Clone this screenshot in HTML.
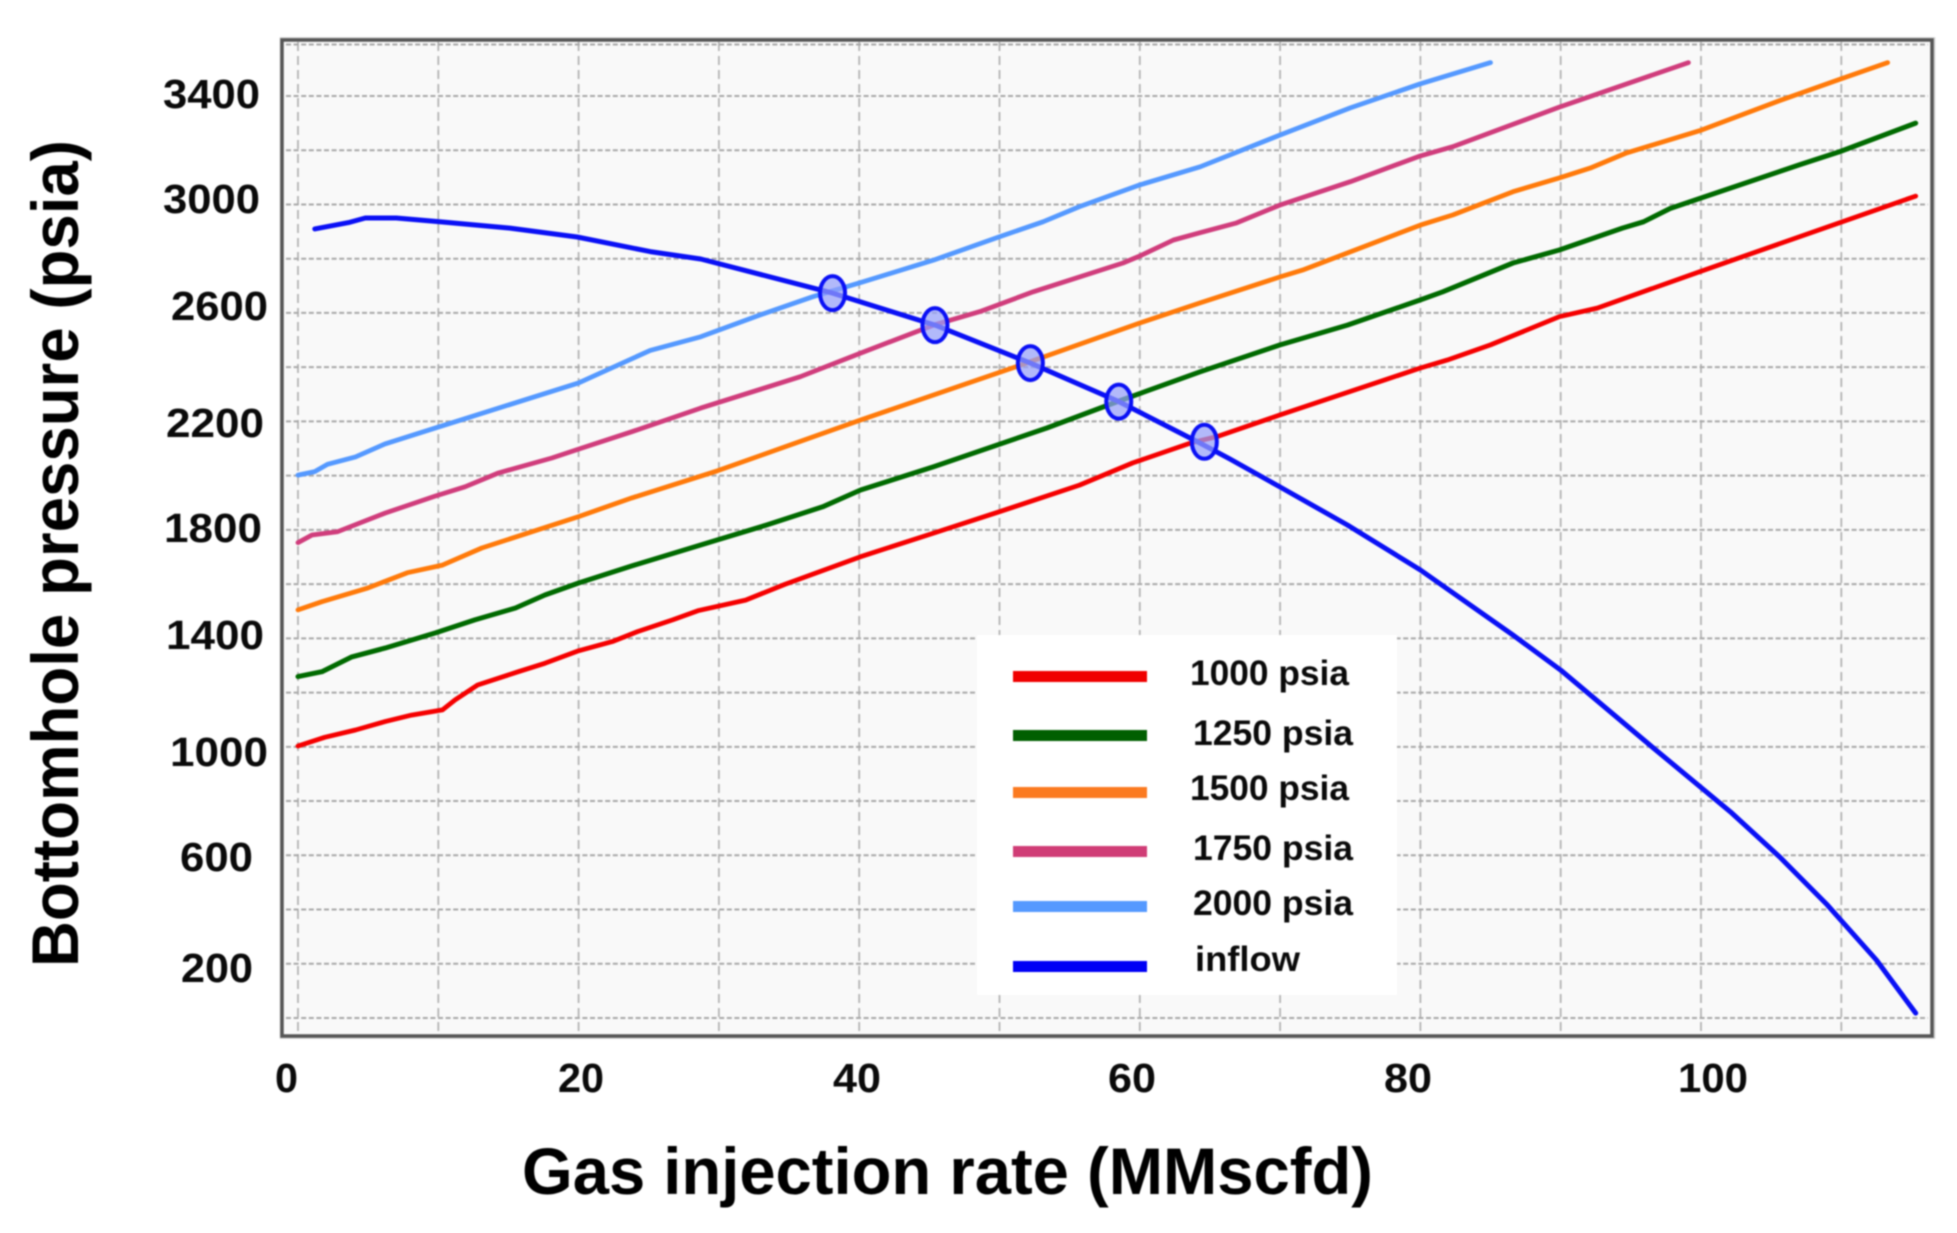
<!DOCTYPE html>
<html lang="en">
<head>
<meta charset="utf-8">
<title>Gas injection rate vs bottomhole pressure</title>
<style>
  html,body{margin:0;padding:0;background:#fff;width:1957px;height:1233px;overflow:hidden}
  svg{display:block;filter:blur(0.8px)}
  text{font-family:"Liberation Sans","DejaVu Sans",sans-serif;font-weight:700;fill:#0a0a0a}
  .tick{font-size:41px}
  .leg{font-size:35px}
  .title{font-size:66px;fill:#000}
</style>
</head>
<body>
<svg id="chart" xmlns="http://www.w3.org/2000/svg" width="1957" height="1233" viewBox="0 0 1957 1233">
  <rect x="282" y="40" width="1650" height="996" fill="#f9f9f9"/>
  <g id="grid"></g>
  <g id="series"></g>
  <g id="markers"></g>
  <rect x="280.5" y="38" width="1654" height="1000" fill="none" stroke="#ccc" stroke-width="1.5"/>
  <rect x="282" y="40" width="1650" height="996" fill="none" stroke="#555" stroke-width="3.5"/>

  <g class="tick">
    <text class="tick" x="163" y="108" textLength="97" lengthAdjust="spacingAndGlyphs">3400</text>
    <text class="tick" x="163" y="213" textLength="97" lengthAdjust="spacingAndGlyphs">3000</text>
    <text class="tick" x="171" y="320" textLength="97" lengthAdjust="spacingAndGlyphs">2600</text>
    <text class="tick" x="166" y="437" textLength="98" lengthAdjust="spacingAndGlyphs">2200</text>
    <text class="tick" x="164" y="542" textLength="98" lengthAdjust="spacingAndGlyphs">1800</text>
    <text class="tick" x="166" y="649" textLength="98" lengthAdjust="spacingAndGlyphs">1400</text>
    <text class="tick" x="170" y="766" textLength="98" lengthAdjust="spacingAndGlyphs">1000</text>
    <text class="tick" x="180" y="871" textLength="73" lengthAdjust="spacingAndGlyphs">600</text>
    <text class="tick" x="181" y="982" textLength="72" lengthAdjust="spacingAndGlyphs">200</text>
  </g>
  <g>
    <text class="tick" x="275" y="1092" textLength="23" lengthAdjust="spacingAndGlyphs">0</text>
    <text class="tick" x="558" y="1092" textLength="46" lengthAdjust="spacingAndGlyphs">20</text>
    <text class="tick" x="833" y="1092" textLength="48" lengthAdjust="spacingAndGlyphs">40</text>
    <text class="tick" x="1108" y="1092" textLength="48" lengthAdjust="spacingAndGlyphs">60</text>
    <text class="tick" x="1384" y="1092" textLength="48" lengthAdjust="spacingAndGlyphs">80</text>
    <text class="tick" x="1678" y="1092" textLength="70" lengthAdjust="spacingAndGlyphs">100</text>
  </g>

  <text class="title" x="522" y="1194" textLength="851" lengthAdjust="spacingAndGlyphs">Gas injection rate (MMscfd)</text>
  <text class="title" transform="translate(78,967) rotate(-90)" x="0" y="0" textLength="827" lengthAdjust="spacingAndGlyphs">Bottomhole pressure (psia)</text>

  <g>
    <rect x="977" y="635" width="420" height="360" fill="#fff"/>
    <rect x="1013" y="671" width="134" height="11" fill="#f00000"/>
    <text class="leg" x="1190" y="685" textLength="159" lengthAdjust="spacingAndGlyphs">1000 psia</text>
    <rect x="1013" y="730" width="134" height="11" fill="#005f00"/>
    <text class="leg" x="1193" y="745" textLength="160" lengthAdjust="spacingAndGlyphs">1250 psia</text>
    <rect x="1013" y="787" width="134" height="11" fill="#fb7a20"/>
    <text class="leg" x="1190" y="800" textLength="159" lengthAdjust="spacingAndGlyphs">1500 psia</text>
    <rect x="1013" y="846" width="134" height="11" fill="#d03d76"/>
    <text class="leg" x="1193" y="860" textLength="160" lengthAdjust="spacingAndGlyphs">1750 psia</text>
    <rect x="1013" y="901" width="134" height="11" fill="#5599ff"/>
    <text class="leg" x="1193" y="915" textLength="160" lengthAdjust="spacingAndGlyphs">2000 psia</text>
    <rect x="1013" y="961" width="134" height="11" fill="#0000f5"/>
    <text class="leg" x="1195" y="971" textLength="105" lengthAdjust="spacingAndGlyphs">inflow</text>
  </g>
</svg>

<script>
// Grid values
const xGridValues = [0,10,20,30,40,50,60,70,80,90,100,110];
const yGridValues = [0,200,400,600,800,1000,1200,1400,1600,1800,2000,2200,2400,2600,2800,3000,3200,3400,3590];

// Series: 1000 psia
const rate1000 = [0,1.9,4.1,6.2,8.1,10.3,11.2,12.8,15.7,17.6,20,22.4,24.2,26.7,28.5,31.9,34.7,40.1,45.3,50,55.7,59.5,63.6,65.5,70,80,81.9,85,89.9,92.6,99.9,109.9,115.3];
const pressure1000 = [1003,1035,1062,1093,1117,1136,1173,1228,1277,1308,1354,1388,1425,1468,1502,1541,1599,1701,1788,1867,1965,2047,2120,2144,2224,2397,2426,2482,2586,2618,2752,2933,3031];

// Series: 1250 psia
const rate1250 = [0,1.7,3.8,6.2,9.8,12.6,15.5,17.6,20,23.8,29.9,33.4,37.4,40.1,45.3,53.4,58.4,64.3,70,74.8,80,81.6,86.6,89.9,94.4,95.9,97.8,99.9,107,109.9,115.3];
const pressure1250 = [1259,1277,1331,1364,1420,1468,1512,1560,1604,1667,1763,1818,1885,1947,2033,2176,2273,2383,2482,2555,2648,2678,2784,2832,2913,2936,2985,3022,3146,3195,3300];

// Series: 1500 psia
const rate1500 = [0,1.7,5,7.8,10.3,13.1,20,23.8,29.9,34.7,40.1,51.2,60,64.3,70,71.6,80,82.3,86.6,89.9,92.1,94.7,99.9,105.6,109.9,113.3];
const pressure1500 = [1505,1535,1586,1642,1670,1733,1849,1918,2018,2106,2205,2402,2563,2637,2733,2758,2924,2961,3047,3098,3134,3190,3272,3383,3462,3523];

// Series: 1750 psia
const rate1750 = [0,1,2.8,6.2,9.8,11.9,14.3,18.1,20,23.8,28.7,35.8,40.1,45.3,48.6,52.4,58.8,60,62.4,64.3,66.9,70,75,80,82.3,89.9,99.1];
const pressure1750 = [1753,1781,1793,1862,1925,1959,2010,2065,2098,2162,2249,2365,2452,2555,2605,2678,2784,2810,2869,2896,2932,2998,3084,3179,3213,3359,3523];

// Series: 2000 psia
const rate2000 = [0,1.2,2.1,4.1,6.2,9.8,11.9,20,25.1,28.7,32.9,36.7,40.1,45.3,50,53.1,55.7,60,64.3,70,75,80,85];
const pressure2000 = [2002,2015,2042,2069,2117,2176,2210,2342,2462,2512,2592,2660,2712,2795,2881,2936,2992,3072,3139,3256,3356,3445,3523];

// Series: inflow
const rateInflow = [1.2,3.6,4.8,7,10.1,15.1,19.9,25.1,28.7,38.1,45.4,52.2,58.5,64.3,66.4,70,74.8,80,86.6,90,96.6,102.1,105.6,109,112.5,115.3];
const pressureInflow = [2910,2933,2950,2950,2936,2913,2880,2826,2799,2673,2555,2415,2273,2120,2062,1958,1818,1652,1412,1283,996,760,594,417,214,18];

// Intersection points
const crossingRates = [38.1,45.4,52.2,58.5,64.6];
const crossingPressures = [2673,2555,2415,2273,2125];

const SVG_NS = 'http://www.w3.org/2000/svg';
const xScale = v => 298 + 14.03 * v;
const yScale = v => 1018 - 0.27118 * v;

const gridLayer = document.getElementById('grid');
xGridValues.forEach(v => {
  const line = document.createElementNS(SVG_NS, 'line');
  
  
  line.setAttribute('x1', xScale(v));
  line.setAttribute('x2', xScale(v));
  line.setAttribute('y1', 42);
  line.setAttribute('y2', 1034);
  line.setAttribute('stroke', '#b4b4b4');
  line.setAttribute('stroke-width', '1.8');
  line.setAttribute('stroke-dasharray', '9 5');
  gridLayer.appendChild(line);
});
yGridValues.forEach(v => {
  const line = document.createElementNS(SVG_NS, 'line');
  
  
  line.setAttribute('x1', 286);
  line.setAttribute('x2', 1928);
  line.setAttribute('y1', yScale(v));
  line.setAttribute('y2', yScale(v));
  line.setAttribute('stroke', '#a8a8a8');
  line.setAttribute('stroke-width', '2');
  line.setAttribute('stroke-dasharray', '5 2.6');
  gridLayer.appendChild(line);
});

const seriesLayer = document.getElementById('series');
function drawSeries(name, rates, pressures, color, width) {
  const path = document.createElementNS(SVG_NS, 'polyline');
  
  
  path.setAttribute('points', rates.map((r, i) => xScale(r).toFixed(1) + ',' + yScale(pressures[i]).toFixed(1)).join(' '));
  path.setAttribute('fill', 'none');
  path.setAttribute('stroke', color);
  path.setAttribute('stroke-width', width);
  path.setAttribute('stroke-linejoin', 'round');
  path.setAttribute('stroke-linecap', 'round');
  seriesLayer.appendChild(path);
}
drawSeries('series-2000-psia', rate2000, pressure2000, '#5599ff', 4.8);
drawSeries('series-1750-psia', rate1750, pressure1750, '#d03d7c', 4.8);
drawSeries('series-1500-psia', rate1500, pressure1500, '#ff7a0a', 4.8);
drawSeries('series-1250-psia', rate1250, pressure1250, '#006a00', 5);
drawSeries('series-1000-psia', rate1000, pressure1000, '#f50000', 4.8);
drawSeries('series-inflow', rateInflow, pressureInflow, '#0a10f5', 5);

const markerLayer = document.getElementById('markers');
crossingRates.forEach((r, i) => {
  const dot = document.createElementNS(SVG_NS, 'ellipse');
  
  
  dot.setAttribute('cx', xScale(r));
  dot.setAttribute('cy', yScale(crossingPressures[i]));
  dot.setAttribute('rx', 12.5);
  dot.setAttribute('ry', 17);
  dot.setAttribute('fill', 'rgba(150,160,250,0.72)');
  dot.setAttribute('stroke', '#0a10f5');
  dot.setAttribute('stroke-width', '4');
  markerLayer.appendChild(dot);
});
</script>
</body>
</html>
